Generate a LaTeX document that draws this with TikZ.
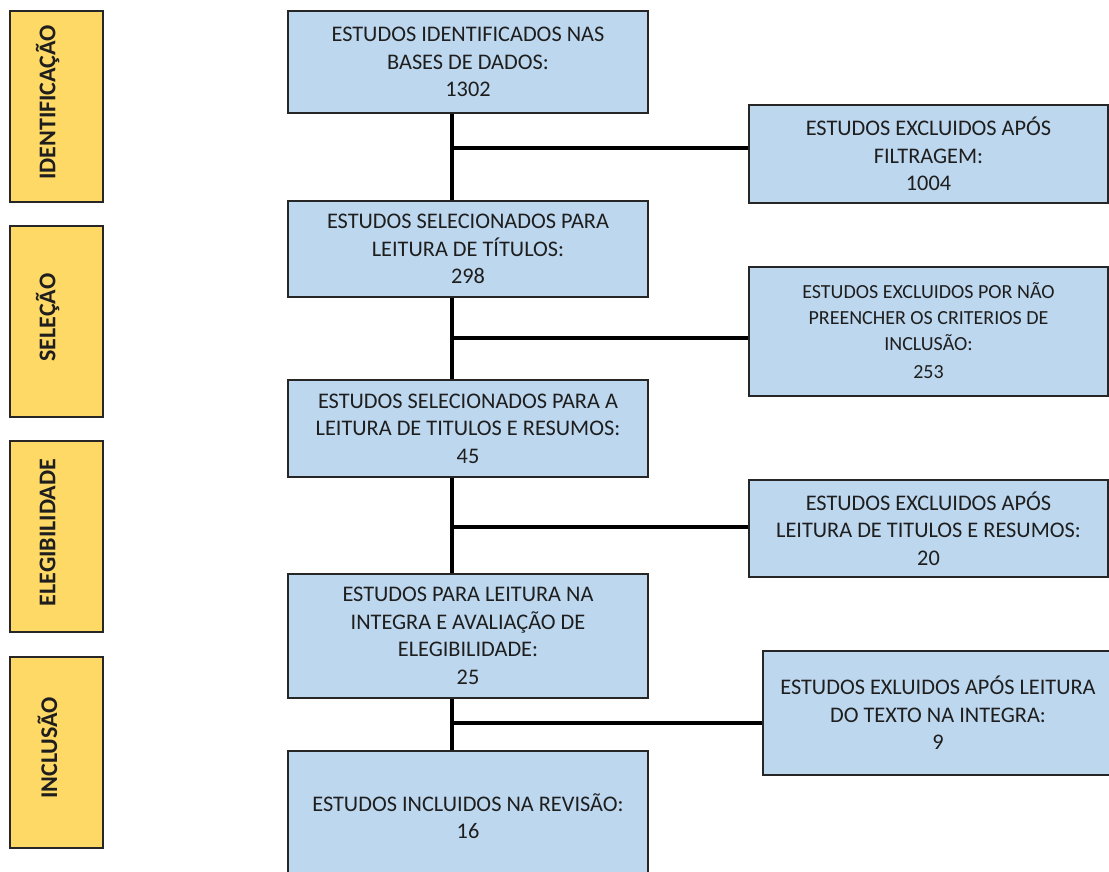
\documentclass[tikz,border=0pt]{standalone}
\usepackage{fontspec}
\setmainfont{Carlito}
\definecolor{boxblue}{HTML}{BDD7EE}
\definecolor{boxyellow}{HTML}{FFD966}
\definecolor{txt}{HTML}{1E1E1E}
\tikzset{
  mainbox/.style={draw=black!85, line width=2pt, fill=boxblue, inner sep=0pt, align=center, text=txt,
    font=\fontsize{22.3}{27.5}\selectfont},
  smallbox/.style={mainbox, font=\fontsize{20}{26}\selectfont},
  phase/.style={draw=black!85, line width=2pt, fill=boxyellow, inner sep=0pt, minimum width=93pt, minimum height=191pt},
  phasetext/.style={xshift=-9pt, yshift=4pt, rotate=90, font=\fontsize{24}{26}\selectfont\bfseries, text=txt},
  conn/.style={line width=3.4pt, black},
}
\begin{document}
\begin{tikzpicture}[x=1pt,y=-1pt]
\useasboundingbox (0,0) rectangle (1109,872);
\clip (0,0) rectangle (1109,872);
% phase labels
\node[phase, label={[phasetext]center:IDENTIFICAÇÃO}] (p1) at (56.5,106.5) {};
\node[phase, label={[phasetext]center:SELEÇÃO}] (p2) at (56.5,321.5) {};
\node[phase, label={[phasetext]center:ELEGIBILIDADE}] (p3) at (56.5,536.5) {};
\node[phase, label={[phasetext]center:INCLUSÃO}] (p4) at (56.5,752) {};
% main column
\node[mainbox, minimum width=360pt, minimum height=102pt] (b1) at (468,62) {ESTUDOS IDENTIFICADOS NAS\\BASES DE DADOS:\\1302};
\node[mainbox, minimum width=360pt, minimum height=96pt] (b2) at (468,249) {ESTUDOS SELECIONADOS PARA\\LEITURA DE TÍTULOS:\\298};
\node[mainbox, minimum width=360pt, minimum height=97pt] (b3) at (468,428.5) {ESTUDOS SELECIONADOS PARA A\\LEITURA DE TITULOS E RESUMOS:\\45};
\node[mainbox, minimum width=360pt, minimum height=124pt] (b4) at (468,636) {ESTUDOS PARA LEITURA NA\\INTEGRA E AVALIAÇÃO DE\\ELEGIBILIDADE:\\25};
\node[mainbox, minimum width=360pt, minimum height=130pt] (b5) at (468,816) {ESTUDOS INCLUIDOS NA REVISÃO:\\16};
% right column
\node[mainbox, minimum width=359pt, minimum height=97pt] (r1) at (928.5,154) {ESTUDOS EXCLUIDOS APÓS\\FILTRAGEM:\\1004};
\node[smallbox, minimum width=359pt, minimum height=129pt] (r2) at (928.5,331) {ESTUDOS EXCLUIDOS POR NÃO\\PREENCHER OS CRITERIOS DE\\INCLUSÃO:\\[2pt]253};
\node[mainbox, minimum width=359pt, minimum height=97pt] (r3) at (928.5,528.5) {ESTUDOS EXCLUIDOS APÓS\\LEITURA DE TITULOS E RESUMOS:\\20};
\node[mainbox, minimum width=350pt, minimum height=124pt] (r4) at (938,713) {ESTUDOS EXLUIDOS APÓS LEITURA\\DO TEXTO NA INTEGRA:\\9};
% junctions
\coordinate (j1) at (452,148);
\coordinate (j2) at (452,338);
\coordinate (j3) at (452,527);
\coordinate (j4) at (452,723);
% connectors
\draw[conn] (j1 |- b1.south) -- (j1 |- b2.north);
\draw[conn] (j1) -- (j1 -| r1.west);
\draw[conn] (j2 |- b2.south) -- (j2 |- b3.north);
\draw[conn] (j2) -- (j2 -| r2.west);
\draw[conn] (j3 |- b3.south) -- (j3 |- b4.north);
\draw[conn] (j3) -- (j3 -| r3.west);
\draw[conn] (j4 |- b4.south) -- (j4 |- b5.north);
\draw[conn] (j4) -- (j4 -| r4.west);
\end{tikzpicture}
\end{document}
